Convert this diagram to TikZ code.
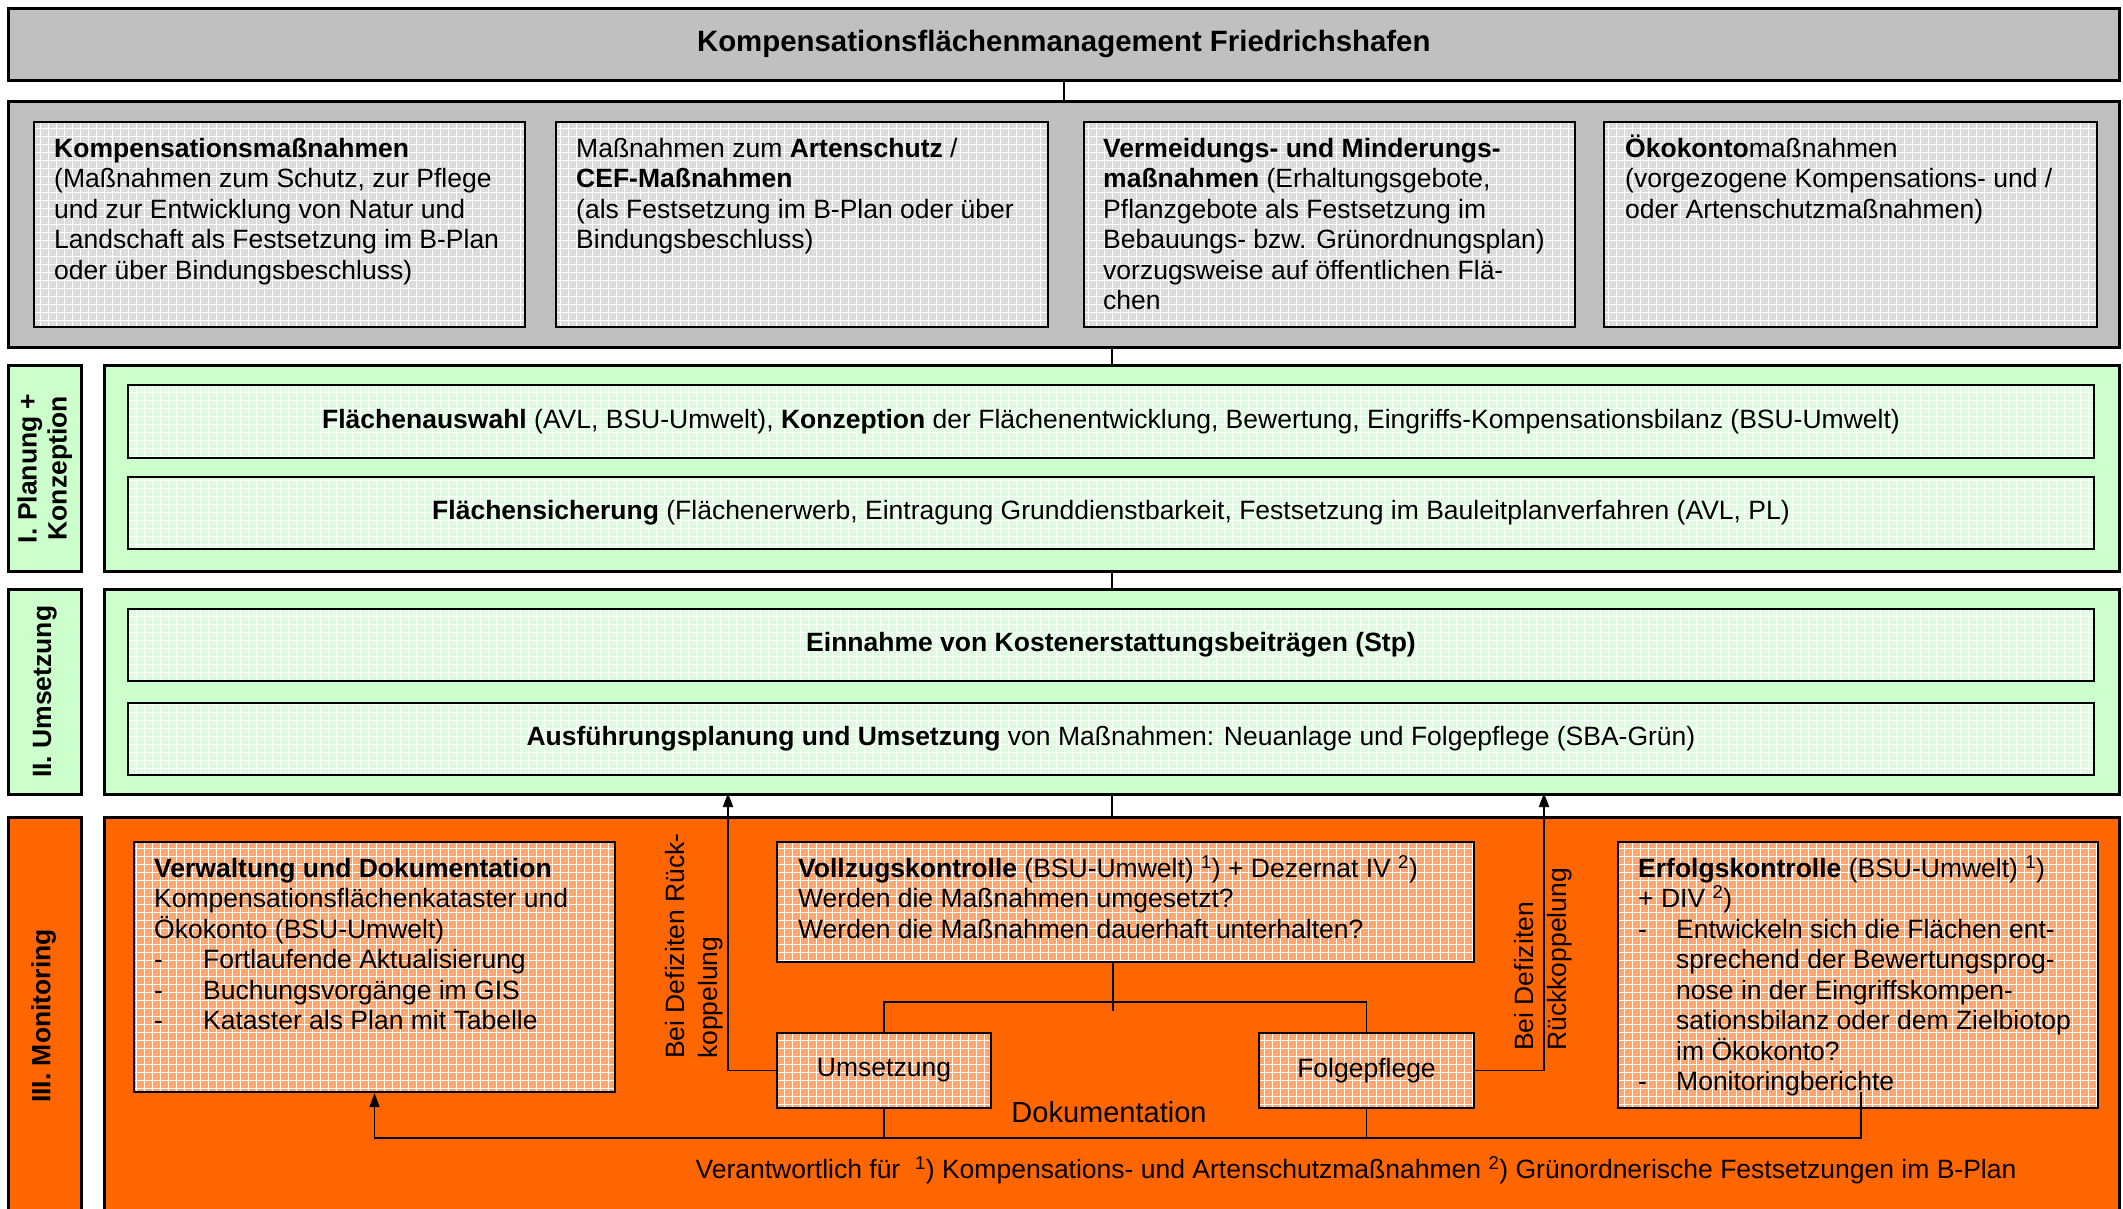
\documentclass[tikz,border=0pt]{standalone}
\usepackage{fontspec}
\setmainfont{Liberation Sans}
\usetikzlibrary{arrows.meta,patterns.meta}
\definecolor{grayA}{HTML}{C0C0C0}
\definecolor{grayIn}{HTML}{DCDCDC}
\definecolor{greenA}{HTML}{CCFFCC}
\definecolor{greenIn}{HTML}{E0FCE0}
\definecolor{orangeA}{HTML}{FF6600}
\definecolor{orangeIn}{HTML}{FFA56E}
\newcommand\bodyfont{\fontsize{26.5}{30.5}\selectfont}
\newcommand\titlefont{\fontsize{29.4}{34}\selectfont\bfseries}
\newcommand\labelfont{\fontsize{26.5}{30}\selectfont\bfseries}
\newcommand\fbfont{\fontsize{26.5}{33}\selectfont}
\newcommand\hochz[1]{\smash{\textsuperscript{#1}}}
\begin{document}
\begin{tikzpicture}[x=1pt,y=-1pt,
  box/.style={draw=black, line width=2pt, inner sep=0pt, anchor=north west},
  frame/.style={box, line width=2.6pt},
  gbox/.style={box,
    preaction={fill=#1},
    preaction={pattern={Lines[angle=0,distance=8pt,line width=0.8pt]},pattern color=white},
    preaction={pattern={Lines[angle=90,distance=8pt,line width=0.8pt]},pattern color=white}},
  txt/.style={anchor=north west, inner sep=0pt, align=left, font=\bodyfont},
  conn/.style={line width=1.6pt},
  arr/.style={conn, -{Triangle[length=14pt,width=10pt]}}]
\useasboundingbox (0,0) rectangle (2123,1208);
\clip (0,0) rectangle (2123,1208);
\fill[white] (0,0) rectangle (2123,1208);

% ---------- title and top block
\node[frame, fill=grayA, minimum width=2111pt, minimum height=72pt, font=\titlefont] (title) at (7,7) {Kompensationsflächenmanagement Friedrichshafen};
\node[frame, fill=grayA, minimum width=2111pt, minimum height=246pt] (gcont) at (7,100) {};
\node[gbox=grayIn, minimum width=491pt, minimum height=205pt] (b1) at (33,121) {};
\node[gbox=grayIn, minimum width=492pt, minimum height=205pt] (b2) at (555,121) {};
\node[gbox=grayIn, minimum width=491pt, minimum height=205pt] (b3) at (1083,121) {};
\node[gbox=grayIn, minimum width=493pt, minimum height=205pt] (b4) at (1603,121) {};
\node[txt] (t1) at (54,138) {\textbf{Kompensationsmaßnahmen}\\(Maßnahmen zum Schutz, zur Pflege\\und zur Entwicklung von Natur und\\Landschaft als Festsetzung im B-Plan\\oder über Bindungsbeschluss)};
\node[txt] (t2) at (576,138) {Maßnahmen zum \textbf{Artenschutz} /\\\textbf{CEF-Maßnahmen}\\(als Festsetzung im B-Plan oder über\\Bindungsbeschluss)};
\node[txt] (t3) at (1103,138) {\textbf{Vermeidungs- und Minderungs-}\\\textbf{maßnahmen} (Erhaltungsgebote,\\Pflanzgebote als Festsetzung im\\Bebauungs- bzw. Grünordnungsplan)\\vorzugsweise auf öffentlichen Flä-\\chen};
\node[txt] (t4) at (1625,138) {\textbf{\smash{Ö}kokonto}maßnahmen\\(vorgezogene Kompensations- und /\\oder Artenschutzmaßnahmen)};

% ---------- I. Planung + Konzeption
\node[frame, fill=greenA, minimum width=73pt, minimum height=206pt] (l1) at (7,364) {};
\node[rotate=90, align=center, font=\labelfont] (l1t) at (l1.center) {I. Planung +\\Konzeption};
\node[frame, fill=greenA, minimum width=2015pt, minimum height=206pt] (g1) at (103,364) {};
\node[gbox=greenIn, minimum width=1966pt, minimum height=73pt, font=\bodyfont] (p1) at (127,384) {\textbf{Flächenauswahl} (AVL, BSU-Umwelt), \textbf{Konzeption} der Flächenentwicklung, Bewertung, Eingriffs-Kompensationsbilanz (BSU-Umwelt)};
\node[gbox=greenIn, minimum width=1966pt, minimum height=72pt, font=\bodyfont] (p2) at (127,476) {\textbf{Flächensicherung} (Flächenerwerb, Eintragung Grunddienstbarkeit, Festsetzung im Bauleitplanverfahren (AVL, PL)};

% ---------- II. Umsetzung
\node[frame, fill=greenA, minimum width=73pt, minimum height=205pt] (l2) at (7,588) {};
\node[rotate=90, align=center, font=\labelfont] (l2t) at (l2.center) {II. Umsetzung};
\node[frame, fill=greenA, minimum width=2015pt, minimum height=205pt] (g2) at (103,588) {};
\node[gbox=greenIn, minimum width=1966pt, minimum height=72pt, font=\bodyfont] (u1) at (127,608) {\textbf{Einnahme von Kostenerstattungsbeiträgen (Stp)}};
\node[gbox=greenIn, minimum width=1966pt, minimum height=72pt, font=\bodyfont] (u2) at (127,702) {\textbf{Ausführungsplanung und Umsetzung} von Maßnahmen: Neuanlage und Folgepflege (SBA-Grün)};

% ---------- III. Monitoring
\node[frame, fill=orangeA, minimum width=73pt, minimum height=400pt] (l3) at (7,816) {};
\node[rotate=90, align=center, font=\labelfont] (l3t) at (43.5,1016) {III. Monitoring};
\node[frame, fill=orangeA, minimum width=2015pt, minimum height=400pt] (o3) at (103,816) {};
\node[gbox=orangeIn, minimum width=481pt, minimum height=250pt] (verw) at (133,841) {};
\node[gbox=orangeIn, minimum width=697pt, minimum height=120pt] (vollz) at (776,841) {};
\node[gbox=orangeIn, minimum width=214pt, minimum height=75pt, font=\bodyfont] (ums) at (776,1032) {Umsetzung};
\node[gbox=orangeIn, minimum width=215pt, minimum height=75pt, font=\bodyfont] (folg) at (1258,1032) {Folgepflege};
\node[gbox=orangeIn, minimum width=480pt, minimum height=266pt] (erf) at (1617,841) {};

\node[txt] (verwt) at (154,858) {\textbf{Verwaltung und Dokumentation}\\Kompensationsflächenkataster und\\Ökokonto (BSU-Umwelt)\\\makebox[49pt][l]{-}Fortlaufende Aktualisierung\\\makebox[49pt][l]{-}Buchungsvorgänge im GIS\\\makebox[49pt][l]{-}Kataster als Plan mit Tabelle};
\node[txt] (vollzt) at (798,858) {\textbf{Vollzugskontrolle} (BSU-Umwelt) \hochz{1}) + Dezernat IV \hochz{2})\\Werden die Maßnahmen umgesetzt?\\Werden die Maßnahmen dauerhaft unterhalten?};
\node[txt] (erft) at (1638,858) {\textbf{Erfolgskontrolle} (BSU-Umwelt) \hochz{1})\\+ DIV \hochz{2})\\\makebox[38pt][l]{-}Entwickeln sich die Flächen ent-\\\hspace*{38pt}sprechend der Bewertungsprog-\\\hspace*{38pt}nose in der Eingriffskompen-\\\hspace*{38pt}sationsbilanz oder dem Zielbiotop\\\hspace*{38pt}im Ökokonto?\\\makebox[38pt][l]{-}Monitoringberichte};

\node[rotate=90, anchor=west, align=left, inner sep=0pt, font=\fbfont] (fbLt) at (694.5,1059) {Bei Defiziten Rück-\\koppelung};
\node[rotate=90, anchor=west, align=left, inner sep=0pt, font=\fbfont] (fbRt) at (1543,1051) {Bei Defiziten\\Rückkoppelung};
\node[font=\fontsize{29}{33}\selectfont] (doku) at (1109,1112) {Dokumentation};
\node[font=\bodyfont] (resp) at (1356,1172) {Verantwortlich für \ \hochz{1}) Kompensations- und Artenschutzmaßnahmen \hochz{2}) Grünordnerische Festsetzungen im B-Plan};

% ---------- connectors
\draw[conn] (title.south) -- (gcont.north);
\draw[conn] (g1.north) -- (g1.north |- gcont.south);
\draw[conn] (g1.south) -- (g2.north);
\draw[conn] (g2.south) -- (o3.north);

\coordinate (tbar) at (1112,1002);
\draw[conn] ([xshift=-12.5pt]vollz.south) -- ++(0,48);
\draw[conn] (ums.north) |- (tbar) -| (folg.north);
\coordinate (fbL) at (728,793);
\coordinate (fbR) at (1544,793);
\draw[arr] (ums.west) -| (fbL);
\draw[arr] (folg.east) -| (fbR);
\coordinate (erfIn) at (1861,1092);
\coordinate (docl) at (1110,1138);
\draw[arr] (erfIn) |- (docl) -| (verw.south);
\draw[conn] (ums.south) -- (ums.south |- docl);
\draw[conn] (folg.south) -- (folg.south |- docl);
\end{tikzpicture}
\end{document}
